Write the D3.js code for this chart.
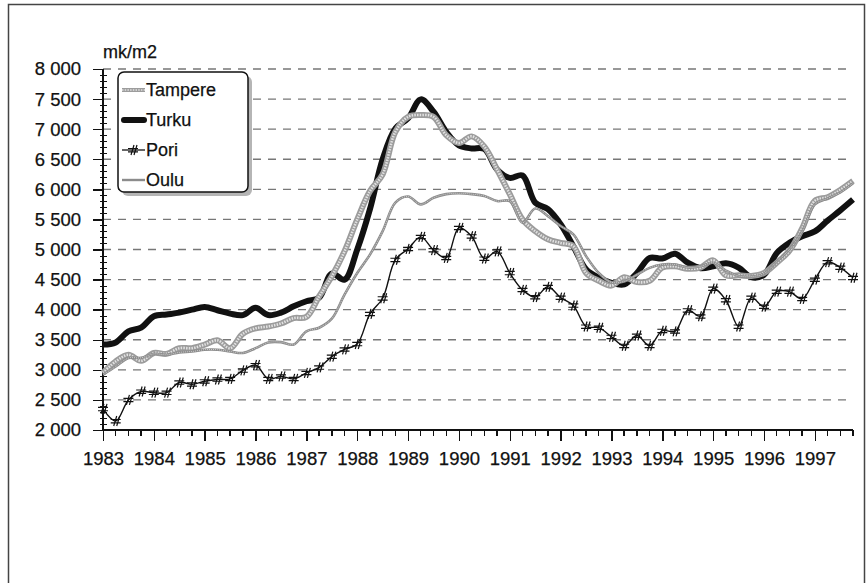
<!DOCTYPE html>
<html lang="en">
<head>
<meta charset="utf-8">
<title>mk/m2</title>
<script src="https://d3js.org/d3.v7.min.js"></script>
<style>
    html, body { margin: 0; padding: 0; background: #fff; }
    text { font-family: "Liberation Sans", Arial, sans-serif; fill: #111; stroke: #111; stroke-width: 0.25px; }
    .grid line { stroke: #777; stroke-width: 1.4px; stroke-dasharray: 8,7; }
    .axis path, .axis line { stroke: #111; stroke-width: 1.4px; fill: none; shape-rendering: crispEdges; }
</style>
</head>
<body>
<script>
    var w = 868, h = 583;

    // quarterly values 1983 Q1 .. 1997 Q4
    var startYear = 1983;
    var yearTicks = [1983, 1984, 1985, 1986, 1987, 1988, 1989, 1990, 1991, 1992, 1993, 1994, 1995, 1996, 1997];
    var yTicks = [2000, 2500, 3000, 3500, 4000, 4500, 5000, 5500, 6000, 6500, 7000, 7500, 8000];

    var tampere = [2950, 3140, 3250, 3150, 3280, 3265, 3360, 3360, 3420, 3490, 3360, 3600, 3690, 3720, 3770,
                   3860, 3880, 4220, 4555, 4970, 5500, 5970, 6250, 6955, 7205, 7235, 7205, 6900, 6770, 6880,
                   6710, 6330, 5920, 5500, 5305, 5170, 5110, 5055, 4610, 4480, 4400, 4540, 4460, 4480, 4700,
                   4720, 4680, 4700, 4820, 4570, 4570, 4560, 4610, 4780, 4980, 5350, 5810, 5870, 5990, 6140];
    var turku   = [3420, 3455, 3640, 3700, 3890, 3920, 3950, 4000, 4045, 3990, 3935, 3910, 4030, 3910, 3950,
                   4055, 4140, 4200, 4600, 4500, 5000, 5670, 6500, 7010, 7180, 7495, 7290, 6955, 6730, 6680,
                   6670, 6330, 6190, 6230, 5780, 5670, 5420, 5055, 4670, 4530, 4445, 4420, 4610, 4860, 4850,
                   4930, 4780, 4690, 4720, 4770, 4700, 4540, 4580, 4940, 5110, 5220, 5300, 5480, 5650, 5830];
    var pori    = [2350, 2150, 2500, 2640, 2620, 2620, 2790, 2760, 2810, 2840, 2850, 2990, 3080, 2850, 2890,
                   2850, 2950, 3040, 3220, 3340, 3430, 3930, 4190, 4830, 5010, 5210, 4990, 4860, 5360, 5220,
                   4850, 4970, 4610, 4330, 4210, 4380, 4200, 4070, 3720, 3700, 3550, 3400, 3570, 3400, 3650,
                   3640, 3990, 3890, 4350, 4160, 3720, 4200, 4050, 4300, 4300, 4180, 4500, 4790, 4700, 4530];
    var oulu    = [2920, 3055, 3195, 3200, 3265, 3250, 3290, 3305, 3335, 3335, 3305, 3280, 3360, 3455, 3460,
                   3420, 3640, 3700, 3850, 4250, 4610, 4915, 5305, 5780, 5880, 5750, 5860, 5920, 5935, 5920,
                   5890, 5805, 5805, 5445, 5680, 5555, 5390, 5250, 4890, 4610, 4455, 4470, 4580, 4695, 4750,
                   4750, 4700, 4720, 4780, 4650, 4560, 4550, 4600, 4800, 5000, 5300, 5750, 5850, 5950, 6100];

    var svg = d3.select("body").append("svg")
        .attr("width", w)
        .attr("height", h);

    // outer frame
    svg.append("rect")
        .attr("x", 8.5).attr("y", 4.5)
        .attr("width", 856).attr("height", 600)
        .attr("fill", "none").attr("stroke", "#444").attr("stroke-width", 1.5);

    var plotLeft = 103, plotRight = 853, plotTop = 69, plotBottom = 430;

    var x = d3.scaleLinear().domain([startYear, startYear + 14.75]).range([plotLeft, plotRight]);
    var y = d3.scaleLinear().domain([2000, 8000]).range([plotBottom, plotTop]);

    // gridlines
    svg.append("g").attr("class", "grid")
        .selectAll("line")
        .data(yTicks.filter(function(d) { return d > 2000; }))
        .enter().append("line")
        .attr("x1", plotLeft).attr("x2", plotRight)
        .attr("y1", function(d) { return y(d); })
        .attr("y2", function(d) { return y(d); });

    // y axis, major ticks with labels, then minor ticks every 100
    var yAxis = d3.axisLeft(y).tickValues(yTicks).tickSize(10).tickPadding(12)
        .tickFormat(function(d) { return d3.format(",")(d).replace(",", " "); });
    var gy = svg.append("g").attr("class", "axis")
        .attr("transform", "translate(" + plotLeft + ",0)")
        .call(yAxis);
    gy.select(".domain").remove();
    gy.selectAll("text").style("font-size", "18.5px").attr("fill", "#111");
    gy.append("line").attr("x1", 0).attr("x2", 0).attr("y1", plotTop).attr("y2", plotBottom);
    gy.selectAll(".minor").data(d3.range(2100, 8000, 100).filter(function(d) { return d % 500 !== 0; }))
        .enter().append("line").attr("class", "minor")
        .attr("x1", -3).attr("x2", 4)
        .attr("y1", function(d) { return Math.round(y(d)) + 0.5; })
        .attr("y2", function(d) { return Math.round(y(d)) + 0.5; });

    // x axis
    var xAxis = d3.axisBottom(x).tickValues(yearTicks).tickSize(11).tickPadding(11)
        .tickFormat(d3.format("d"));
    var gx = svg.append("g").attr("class", "axis")
        .attr("transform", "translate(0," + plotBottom + ")")
        .call(xAxis);
    gx.select(".domain").remove();
    gx.append("line").attr("x1", plotLeft).attr("x2", plotRight).attr("y1", 0).attr("y2", 0).style("stroke-width", "2px");
    gx.selectAll("text").style("font-size", "18.5px").attr("fill", "#111");
    gx.selectAll(".minor").data(d3.range(0, 60).filter(function(q) { return q % 4 !== 0; }))
        .enter().append("line").attr("class", "minor")
        .attr("x1", function(q) { return x(startYear + q / 4); })
        .attr("x2", function(q) { return x(startYear + q / 4); })
        .attr("y1", 0).attr("y2", 6);

    svg.append("text").attr("x", 103).attr("y", 58)
        .style("font-size", "18px").text("mk/m2");

    var line = d3.line()
        .x(function(d, i) { return x(startYear + i / 4); })
        .y(function(d) { return y(d); })
        .curve(d3.curveCatmullRom.alpha(0.5));

    // Turku
    svg.append("path").attr("d", line(turku))
        .attr("fill", "none").attr("stroke", "#111").attr("stroke-width", 6)
        .attr("stroke-linejoin", "round");

    // Tampere: grey hatched thick line
    svg.append("path").attr("d", line(tampere))
        .attr("fill", "none").attr("stroke", "#9c9c9c").attr("stroke-width", 6)
        .attr("stroke-linejoin", "round");
    svg.append("path").attr("d", line(tampere))
        .attr("fill", "none").attr("stroke", "#e2e2e2").attr("stroke-width", 2.6)
        .attr("stroke-dasharray", "1.5,1.2");

    // Oulu: thin grey line
    svg.append("path").attr("d", line(oulu))
        .attr("fill", "none").attr("stroke", "#8c8c8c").attr("stroke-width", 2.6)
        .attr("stroke-linejoin", "round");
    svg.append("path").attr("d", line(oulu))
        .attr("fill", "none").attr("stroke", "#d6d6d6").attr("stroke-width", 0.9)
        .attr("stroke-dasharray", "1,1");

    // Pori: thin black line with hash markers
    svg.append("path").attr("d", line(pori))
        .attr("fill", "none").attr("stroke", "#111").attr("stroke-width", 1.4);

    var hash = "M-2,5L1,-5M1,5L4,-5M-5,-1.5L5,-1.5M-5,1.8L5,1.8";
    svg.append("g").selectAll("path").data(pori).enter().append("path")
        .attr("transform", function(d, i) { return "translate(" + x(startYear + i / 4) + "," + y(d) + ")"; })
        .attr("d", hash)
        .attr("stroke", "#111").attr("stroke-width", 1.2).attr("fill", "none");

    // legend
    var lg = svg.append("g").attr("transform", "translate(118,72)");
    lg.append("rect").attr("x", 4).attr("y", 4).attr("width", 130).attr("height", 120).attr("rx", 6)
        .attr("fill", "#b5b5b5");
    lg.append("rect").attr("x", 0).attr("y", 0).attr("width", 130).attr("height", 120).attr("rx", 6)
        .attr("fill", "#fff").attr("stroke", "#111").attr("stroke-width", 1.5);

    var names = ["Tampere", "Turku", "Pori", "Oulu"];
    names.forEach(function(n, i) {
        var cy = 18 + i * 30;
        if (n === "Tampere") {
            lg.append("line").attr("x1", 4).attr("x2", 27).attr("y1", cy).attr("y2", cy)
                .attr("stroke", "#9c9c9c").attr("stroke-width", 4);
            lg.append("line").attr("x1", 4).attr("x2", 27).attr("y1", cy).attr("y2", cy)
                .attr("stroke", "#e2e2e2").attr("stroke-width", 1.5).attr("stroke-dasharray", "1.5,1.2");
        } else if (n === "Turku") {
            lg.append("line").attr("x1", 6).attr("x2", 26).attr("y1", cy).attr("y2", cy)
                .attr("stroke", "#111").attr("stroke-width", 6).attr("stroke-linecap", "round");
        } else if (n === "Pori") {
            lg.append("line").attr("x1", 4).attr("x2", 27).attr("y1", cy).attr("y2", cy)
                .attr("stroke", "#111").attr("stroke-width", 1.3);
            lg.append("path").attr("transform", "translate(15," + cy + ")").attr("d", hash)
                .attr("stroke", "#111").attr("stroke-width", 1.2).attr("fill", "none");
        } else {
            lg.append("line").attr("x1", 4).attr("x2", 27).attr("y1", cy).attr("y2", cy)
                .attr("stroke", "#8c8c8c").attr("stroke-width", 2.4);
        }
        lg.append("text").attr("x", 28).attr("y", cy + 6).style("font-size", "18px").text(n);
    });
</script>
</body>
</html>
